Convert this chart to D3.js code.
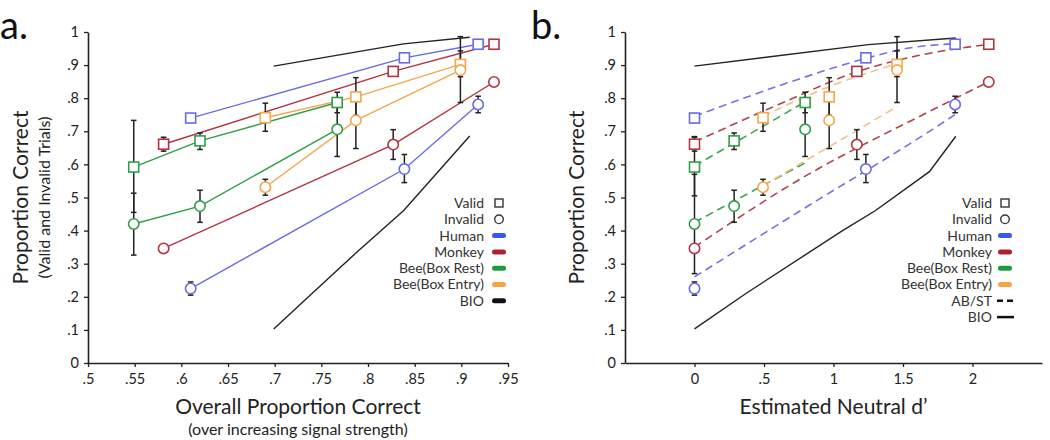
<!DOCTYPE html>
<html><head><meta charset="utf-8">
<script src="https://cdn.jsdelivr.net/npm/d3@7"></script>
<style>body{margin:0;background:#fff}svg{display:block}</style>
</head><body>
<svg id="chart" width="1050" height="440"></svg>
<script>
// ---------- DATA ----------
const speciesNames = ["Human", "Monkey", "Bee(Box Rest)", "Bee(Box Entry)"];
// panel a x: overall proportion correct
const humanOverall    = [0.610, 0.839, 0.918];
const monkeyOverall   = [0.581, 0.827, 0.935];
const beeRestOverall  = [0.549, 0.620, 0.767];
const beeEntryOverall = [0.690, 0.787, 0.899];
// panel b x: estimated neutral d'
const humanDprime    = [0.000, 1.233, 1.875];
const monkeyDprime   = [0.000, 1.168, 2.117];
const beeRestDprime  = [0.000, 0.285, 0.796];
const beeEntryDprime = [0.493, 0.969, 1.457];
// proportion correct
const humanValid      = [0.740, 0.922, 0.963];
const humanInvalid    = [0.225, 0.586, 0.781];
const monkeyValid     = [0.661, 0.881, 0.963];
const monkeyInvalid   = [0.346, 0.660, 0.849];
const beeRestValid    = [0.592, 0.671, 0.787];
const beeRestInvalid  = [0.420, 0.474, 0.706];
const beeEntryValid   = [0.741, 0.804, 0.902];
const beeEntryInvalid = [0.531, 0.733, 0.885];
// error bars [low, high] (null = none)
const humanValidErr      = [null, null, null];
const humanInvalidErr    = [[0.205, 0.245], [0.545, 0.630], [0.756, 0.806]];
const monkeyValidErr     = [[0.640, 0.682], null, null];
const monkeyInvalidErr   = [null, [0.615, 0.705], [0.840, 0.860]];
const beeRestValidErr    = [[0.455, 0.733], [0.645, 0.695], [0.756, 0.818]];
const beeRestInvalidErr  = [[0.326, 0.513], [0.425, 0.522], [0.624, 0.790]];
const beeEntryValidErr   = [[0.700, 0.785], [0.748, 0.862], [0.865, 0.943]];
const beeEntryInvalidErr = [[0.507, 0.555], [0.648, 0.818], [0.787, 0.986]];
// panel b draws the Bee(Box Rest) d'=0 bars differently
const beeRestValidErrB   = [[0.505, 0.684], [0.645, 0.695], [0.756, 0.818]];
const beeRestInvalidErrB = [[0.270, 0.570], [0.425, 0.522], [0.624, 0.790]];
// BIO model curves
const bioOverallValid   = [0.699, 0.838, 0.909];
const bioValidA         = [0.897, 0.964, 0.984];
const bioOverallInvalid = [0.699, 0.740, 0.790, 0.838, 0.909];
const bioInvalidA       = [0.103, 0.210, 0.340, 0.460, 0.686];
const bioDprimeValid    = [0, 1.25, 1.88];
const bioValidB         = [0.897, 0.962, 0.982];
const bioDprimeInvalid  = [0, 0.37, 1.065, 1.30, 1.69, 1.88];
const bioInvalidB       = [0.103, 0.210, 0.400, 0.460, 0.578, 0.685];
// AB/ST model fits (panel b)
const humanValidFitX    = [0, 0.66, 1.23, 1.52, 1.88];
const humanValidFitY    = [0.745, 0.845, 0.920, 0.950, 0.965];
const humanInvalidFitX  = [0, 0.75, 1.69, 1.88];
const humanInvalidFitY  = [0.260, 0.457, 0.700, 0.752];
const monkeyValidFitX   = [0, 0.60, 1.17, 1.60, 2.12];
const monkeyValidFitY   = [0.668, 0.780, 0.880, 0.928, 0.963];
const monkeyInvalidFitX = [0, 0.75, 1.69, 2.12];
const monkeyInvalidFitY = [0.350, 0.553, 0.760, 0.850];
const beeRestValidFitX  = [0, 0.82];
const beeRestValidFitY  = [0.595, 0.795];
const beeRestInvalidFitX= [0, 0.82];
const beeRestInvalidFitY= [0.425, 0.610];
const beeEntryValidFitX = [0.49, 0.97, 1.46];
const beeEntryValidFitY = [0.745, 0.835, 0.905];
const beeEntryInvalidFitX=[0.49, 1.46];
const beeEntryInvalidFitY=[0.535, 0.775];
// ticks
const yTicks  = [0, .1, .2, .3, .4, .5, .6, .7, .8, .9, 1];
const yTickLabels = ["0", ".1", ".2", ".3", ".4", ".5", ".6", ".7", ".8", ".9", "1"];
const xTicksA = [.5, .55, .6, .65, .7, .75, .8, .85, .9, .95];
const xTickLabelsA = [".5", ".55", ".6", ".65", ".7", ".75", ".8", ".85", ".9", ".95"];
const xTicksB = [0, .5, 1, 1.5, 2];
const xTickLabelsB = ["0", ".5", "1", "1.5", "2"];

// ---------- STYLE ----------
const FONT = "Lato, 'Open Sans', sans-serif";
const lineColors   = ["#6a6ae6", "#b3343f", "#2e9f49", "#f5a74d"];
const fitColors    = ["#7272ea", "#b0434f", "#3ca553", "#f4c088"];
const swatchColors = ["#3a56ee", "#b01f2e", "#1b9b3b", "#f7a445"];
const INK = "#222";

const series = speciesNames.map((name, i) => ({
  name, color: lineColors[i], fit: fitColors[i], swatch: swatchColors[i],
  xa: [humanOverall, monkeyOverall, beeRestOverall, beeEntryOverall][i],
  xb: [humanDprime, monkeyDprime, beeRestDprime, beeEntryDprime][i],
  valid: [humanValid, monkeyValid, beeRestValid, beeEntryValid][i],
  invalid: [humanInvalid, monkeyInvalid, beeRestInvalid, beeEntryInvalid][i],
  vErrA: [humanValidErr, monkeyValidErr, beeRestValidErr, beeEntryValidErr][i],
  iErrA: [humanInvalidErr, monkeyInvalidErr, beeRestInvalidErr, beeEntryInvalidErr][i],
  vErrB: [humanValidErr, monkeyValidErr, beeRestValidErrB, beeEntryValidErr][i],
  iErrB: [humanInvalidErr, monkeyInvalidErr, beeRestInvalidErrB, beeEntryInvalidErr][i],
  vFit: [[humanValidFitX, humanValidFitY], [monkeyValidFitX, monkeyValidFitY], [beeRestValidFitX, beeRestValidFitY], [beeEntryValidFitX, beeEntryValidFitY]][i],
  iFit: [[humanInvalidFitX, humanInvalidFitY], [monkeyInvalidFitX, monkeyInvalidFitY], [beeRestInvalidFitX, beeRestInvalidFitY], [beeEntryInvalidFitX, beeEntryInvalidFitY]][i]
}));

const svg = d3.select("#chart").style("font-family", FONT);

function drawPanel(opts) {
  const {x, y, xTicks, xLabels, letter, letterX, xTitle, xSub, yTitle, ySub, yTitleX, ySubX, panel} = opts;
  const g = svg.append("g");
  // axes
  const ya = g.append("g").attr("transform", `translate(${x.range()[0]},0)`)
    .call(d3.axisLeft(y).tickValues(yTicks).tickFormat((d, i) => yTickLabels[i]).tickSize(4).tickSizeOuter(0).tickPadding(5));
  const xa = g.append("g").attr("transform", `translate(0,${y.range()[0]})`)
    .call(d3.axisBottom(x).tickValues(xTicks).tickFormat((d, i) => xLabels[i]).tickSize(4).tickSizeOuter(0).tickPadding(7));
  [ya, xa].forEach(a => {
    a.select(".domain").attr("stroke", INK).attr("stroke-width", 1.6);
    a.selectAll(".tick line").attr("stroke", INK).attr("stroke-width", 1.3);
    a.selectAll("text").attr("font-family", FONT).attr("font-size", 14.5).attr("fill", INK);
  });

  const line = d3.line().x(d => x(d[0])).y(d => y(d[1]));
  const zip = (a, b) => a.map((v, i) => [v, b[i]]);

  // BIO
  const bio = panel === "a"
    ? [zip(bioOverallValid, bioValidA), zip(bioOverallInvalid, bioInvalidA)]
    : [zip(bioDprimeValid, bioValidB), zip(bioDprimeInvalid, bioInvalidB)];
  bio.forEach(pts => g.append("path").attr("d", line(pts)).attr("fill", "none")
    .attr("stroke", INK).attr("stroke-width", 1.4));

  const xk = panel === "a" ? "xa" : "xb";
  // series lines
  series.forEach(s => {
    if (panel === "a") {
      [s.valid, s.invalid].forEach(vals => g.append("path").attr("d", line(zip(s.xa, vals)))
        .attr("fill", "none").attr("stroke", s.color).attr("stroke-width", 1.4));
    } else {
      [s.vFit, s.iFit].forEach(f => g.append("path").attr("d", line.curve(d3.curveMonotoneX)(zip(f[0], f[1])))
        .attr("fill", "none").attr("stroke", s.fit).attr("stroke-width", 1.6).attr("stroke-dasharray", "8,5"));
      line.curve(d3.curveLinear);
    }
  });
  // error bars
  series.forEach(s => {
    const errs = panel === "a" ? [s.vErrA, s.iErrA] : [s.vErrB, s.iErrB];
    errs.forEach(arr => arr.forEach((e, i) => {
      if (!e) return;
      const cx = x(s[xk][i]);
      g.append("line").attr("x1", cx).attr("x2", cx).attr("y1", y(e[0])).attr("y2", y(e[1]))
        .attr("stroke", INK).attr("stroke-width", 1.5);
      e.forEach(v => g.append("line").attr("x1", cx - 2.8).attr("x2", cx + 2.8).attr("y1", y(v)).attr("y2", y(v))
        .attr("stroke", INK).attr("stroke-width", 1.5));
    }));
  });
  // markers
  series.forEach(s => {
    s[xk].forEach((xv, i) => {
      g.append("rect").attr("x", x(xv) - 5).attr("y", y(s.valid[i]) - 5).attr("width", 10).attr("height", 10)
        .attr("fill", "#fff").attr("stroke", s.color).attr("stroke-width", 1.6);
      g.append("circle").attr("cx", x(xv)).attr("cy", y(s.invalid[i])).attr("r", 5.2)
        .attr("fill", "#fff").attr("stroke", s.color).attr("stroke-width", 1.6);
    });
  });

  // titles
  g.append("text").attr("x", letterX).attr("y", 39).attr("font-size", 38).attr("fill", "#111").text(letter);
  const xc = (x.range()[0] + x.range()[1]) / 2;
  g.append("text").attr("x", xc).attr("y", 414).attr("text-anchor", "middle").attr("font-size", 21).attr("fill", INK).text(xTitle);
  if (xSub) g.append("text").attr("x", xc).attr("y", 435).attr("text-anchor", "middle").attr("font-size", 16).attr("fill", INK).text(xSub);
  const yc = (y.range()[0] + y.range()[1]) / 2;
  g.append("text").attr("transform", `translate(${yTitleX},${yc}) rotate(-90)`).attr("text-anchor", "middle")
    .attr("font-size", 21).attr("fill", INK).text(yTitle);
  if (ySub) g.append("text").attr("transform", `translate(${ySubX},${yc}) rotate(-90)`).attr("text-anchor", "middle")
    .attr("font-size", 16).attr("fill", INK).text(ySub);

  // legend
  const lx = opts.legendX, sx = opts.legendSym;
  const rows = [{t: "Valid", k: "sq"}, {t: "Invalid", k: "ci"}]
    .concat(series.map(s => ({t: s.name, k: "sw", c: s.swatch})))
    .concat(panel === "b" ? [{t: "AB/ST", k: "dash"}] : [])
    .concat([{t: "BIO", k: panel === "a" ? "sw" : "solid", c: "#111"}]);
  rows.forEach((r, i) => {
    const ry = 203 + i * 16.3;
    g.append("text").attr("x", lx).attr("y", ry).attr("dy", "0.35em").attr("text-anchor", "end")
      .attr("font-size", 14).attr("fill", "#333").text(r.t);
    if (r.k === "sq") g.append("rect").attr("x", sx - 4).attr("y", ry - 4).attr("width", 8).attr("height", 8)
      .attr("fill", "#fff").attr("stroke", "#333").attr("stroke-width", 1.4);
    else if (r.k === "ci") g.append("circle").attr("cx", sx).attr("cy", ry).attr("r", 4.3)
      .attr("fill", "#fff").attr("stroke", "#333").attr("stroke-width", 1.4);
    else if (r.k === "sw") g.append("line").attr("x1", sx - 4.5).attr("x2", sx + 4.5).attr("y1", ry).attr("y2", ry)
      .attr("stroke", r.c).attr("stroke-width", 5).attr("stroke-linecap", "round");
    else if (r.k === "dash") g.append("line").attr("x1", sx - 8).attr("x2", sx + 9).attr("y1", ry).attr("y2", ry)
      .attr("stroke", "#111").attr("stroke-width", 2.5).attr("stroke-dasharray", "6,4");
    else g.append("line").attr("x1", sx - 8).attr("x2", sx + 9).attr("y1", ry).attr("y2", ry)
      .attr("stroke", "#111").attr("stroke-width", 2.5);
  });
}

const yA = d3.scaleLinear().domain([0, 1]).range([363, 32]);
const xA = d3.scaleLinear().domain([0.5, 0.95]).range([88, 508]);
const xB = d3.scaleLinear().domain([-0.5, 2.5]).range([625, 1042]);

drawPanel({x: xA, y: yA, xTicks: xTicksA, xLabels: xTickLabelsA, letter: "a.", letterX: 0,
  xTitle: "Overall Proportion Correct", xSub: "(over increasing signal strength)",
  yTitle: "Proportion Correct", ySub: "(Valid and Invalid Trials)", yTitleX: 28, ySubX: 50,
  legendX: 484, legendSym: 499, panel: "a"});
drawPanel({x: xB, y: yA, xTicks: xTicksB, xLabels: xTickLabelsB, letter: "b.", letterX: 531,
  xTitle: "Estimated Neutral d\u2019", xSub: null,
  yTitle: "Proportion Correct", ySub: null, yTitleX: 584, ySubX: 0,
  legendX: 992, legendSym: 1005, panel: "b"});
</script>
</body></html>
